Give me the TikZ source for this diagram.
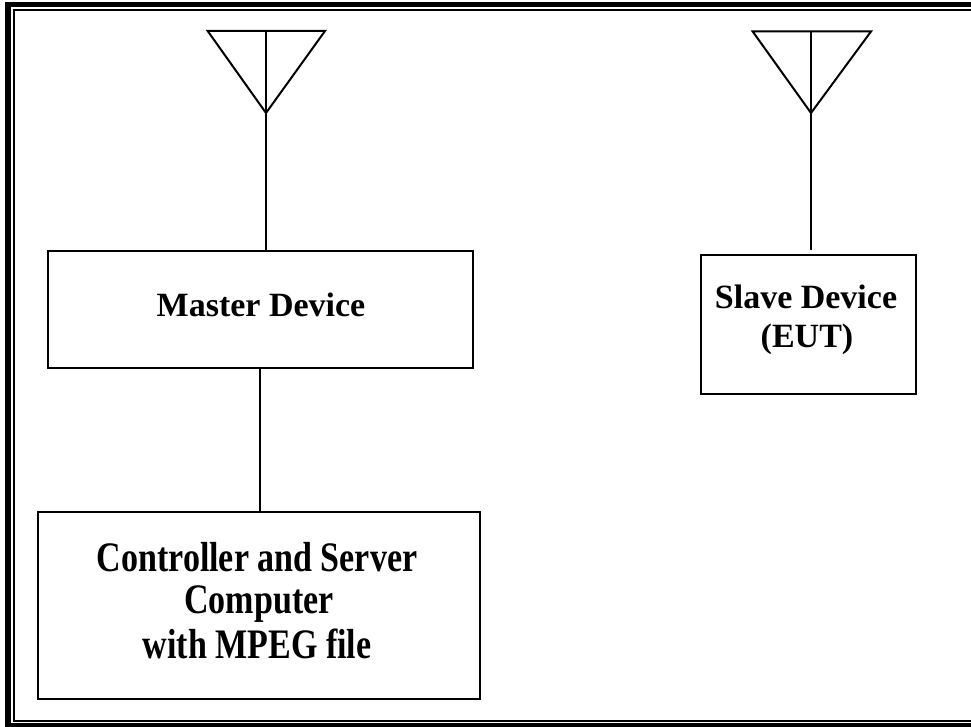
\documentclass[tikz,border=0pt]{standalone}
\usepackage{fontspec}
\setmainfont{Liberation Serif}
\newfontfamily\condfont[FakeStretch=0.81]{Liberation Serif}
\begin{document}
\begin{tikzpicture}[x=1pt,y=-1pt,
  boxnode/.style={draw, line width=2pt, rectangle, inner sep=0pt, outer sep=0pt},
  wire/.style={line width=2pt},
  labeltext/.style={anchor=base, inner sep=0pt, font=\bfseries\fontsize{34}{40}\selectfont},
  condtext/.style={anchor=base, inner sep=0pt, font=\condfont\bfseries\fontsize{42}{48}\selectfont}]
\useasboundingbox (0,0) rectangle (971,727);
\begin{scope}
\clip (0,0) rectangle (971,727);
% frame
\draw[line width=5.5pt] (8,4.5) -- (8,726) -- (995,726) -- (995,4.5) -- cycle;
\draw[line width=2pt] (14,10) -- (14,721) -- (990,721) -- (990,10) -- cycle;
\end{scope}
% boxes
\node[boxnode, minimum width=425pt, minimum height=116pt] (master) at (260,309.5) {};
\node[boxnode, minimum width=215pt, minimum height=139pt] (slave) at (808.5,324.5) {};
\node[boxnode, minimum width=442pt, minimum height=187.3pt] (ctrl) at (259,605.3) {};
% texts
\node[labeltext] (mtxt) at (261,316) {Master Device};
\node[labeltext] (stxt1) at (806,308) {Slave Device};
\node[labeltext] (stxt2) at (807,347) {(EUT)};
\node[condtext] (ctxt1) at (257,571.7) {Controller and Server};
\node[condtext] (ctxt2) at (259,613) {Computer};
\node[condtext] (ctxt3) at (257,658) {with MPEG file};
% antenna 1
\coordinate (a1l) at (207.7,31);
\coordinate (a1r) at (325,31);
\coordinate (a1m) at (266,31);
\coordinate (a1apex) at (266,113);
\draw[wire, line join=miter] (a1l) -- (a1r) -- (a1apex) -- cycle;
\draw[wire] (a1m) -- (a1apex) -- (a1apex |- master.north);
% antenna 2
\coordinate (a2l) at (752.7,31.5);
\coordinate (a2r) at (871,31.5);
\coordinate (a2m) at (811,31.5);
\coordinate (a2apex) at (811,113);
\coordinate (a2end) at (811,250);
\draw[wire, line join=miter] (a2l) -- (a2r) -- (a2apex) -- cycle;
\draw[wire] (a2m) -- (a2apex) -- (a2end);
% master to controller
\draw[wire] (master.south) -- (master.south |- ctrl.north);
\end{tikzpicture}
\end{document}
